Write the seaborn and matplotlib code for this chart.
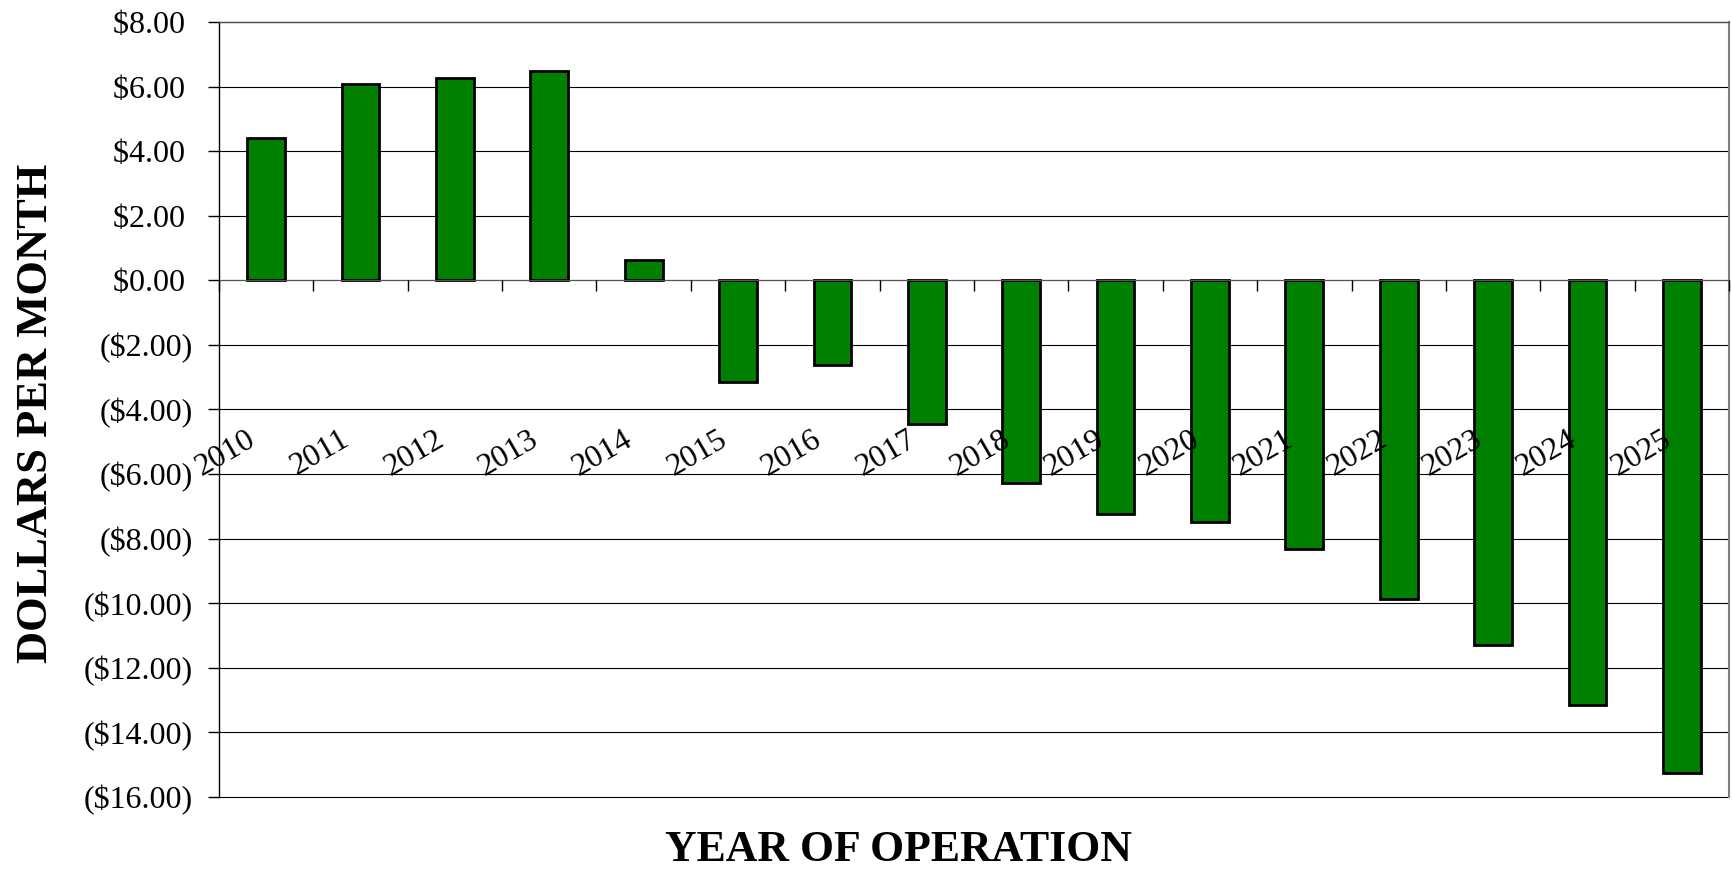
import numpy as np
import matplotlib
matplotlib.use("Agg")
import matplotlib.pyplot as plt
from matplotlib.ticker import FuncFormatter
from matplotlib.transforms import ScaledTranslation
import seaborn as sns

years = ["2010", "2011", "2012", "2013", "2014", "2015", "2016", "2017",
         "2018", "2019", "2020", "2021", "2022", "2023", "2024", "2025"]
dollars = [4.40, 6.07, 6.26, 6.48, 0.64, -3.14, -2.63, -4.44,
           -6.27, -7.24, -7.50, -8.31, -9.88, -11.30, -13.14, -15.27]
yticks = [8, 6, 4, 2, 0, -2, -4, -6, -8, -10, -12, -14, -16]

sns.set_theme(style="white")
plt.rcParams["font.family"] = ["Liberation Serif", "DejaVu Serif"]
plt.rcParams["text.color"] = "black"
plt.rcParams["axes.labelcolor"] = "black"
plt.rcParams["xtick.color"] = "black"
plt.rcParams["ytick.color"] = "black"

fig = plt.figure(figsize=(17.32, 8.73), dpi=100)
ax = fig.add_axes([0.1264, 0.0871, 0.8719, 0.8877])

sns.barplot(x=years, y=dollars, color="#008000", saturation=1,
            edgecolor="black", linewidth=2.0, width=0.4, ax=ax)

ax.set_xlim(-0.5, len(years) - 0.5)
ax.set_ylim(-16, 8)
ax.set_yticks(yticks)


def money(v, pos):
    if v < 0:
        return f"(${-v:.2f})"
    return f"${v:.2f} "


ax.yaxis.set_major_formatter(FuncFormatter(money))
ax.tick_params(axis="y", which="major", direction="out", length=8, width=1,
               color="black", pad=11, labelsize=23, left=True)

# grid behind the bars, year labels in front of them
ax.set_axisbelow(True)
ax.xaxis.set_zorder(3)
ax.yaxis.grid(True, color="black", linewidth=0.8)
ax.xaxis.grid(False)
for gl in ax.get_ygridlines():
    gl.set_clip_on(False)

# x axis sits on zero, tick marks between categories
ax.spines["bottom"].set_position(("data", 0))
ax.spines["bottom"].set_color("#555555")
ax.spines["bottom"].set_linewidth(0.8)
ax.spines["left"].set_color("black")
ax.spines["left"].set_linewidth(1.0)
ax.spines["right"].set_color("#808080")
ax.spines["right"].set_linewidth(1.5)
ax.spines["top"].set_color("#555555")
ax.spines["top"].set_linewidth(1.0)

ax.set_xticks(np.arange(-0.5, len(years), 1), minor=True)
ax.tick_params(axis="x", which="minor", direction="out", length=8, width=1,
               color="black", bottom=True)
ax.tick_params(axis="x", which="major", length=0, pad=113, labelsize=23)
shift = ScaledTranslation(-13 / 100, 0, fig.dpi_scale_trans)
for lab in ax.get_xticklabels():
    lab.set_rotation(30)
    lab.set_ha("right")
    lab.set_va("center")
    lab.set_rotation_mode("anchor")
    lab.set_transform(lab.get_transform() + shift)

ax.set_xlabel("YEAR OF OPERATION", fontsize=31.5, fontweight="bold")
ax.xaxis.set_label_coords(0.4497, -0.043)
ax.set_ylabel("DOLLARS PER MONTH", fontsize=32, fontweight="bold")
ax.yaxis.set_label_coords(-0.108, 0.4955)

fig.savefig("out.png", dpi=100, facecolor="white")
